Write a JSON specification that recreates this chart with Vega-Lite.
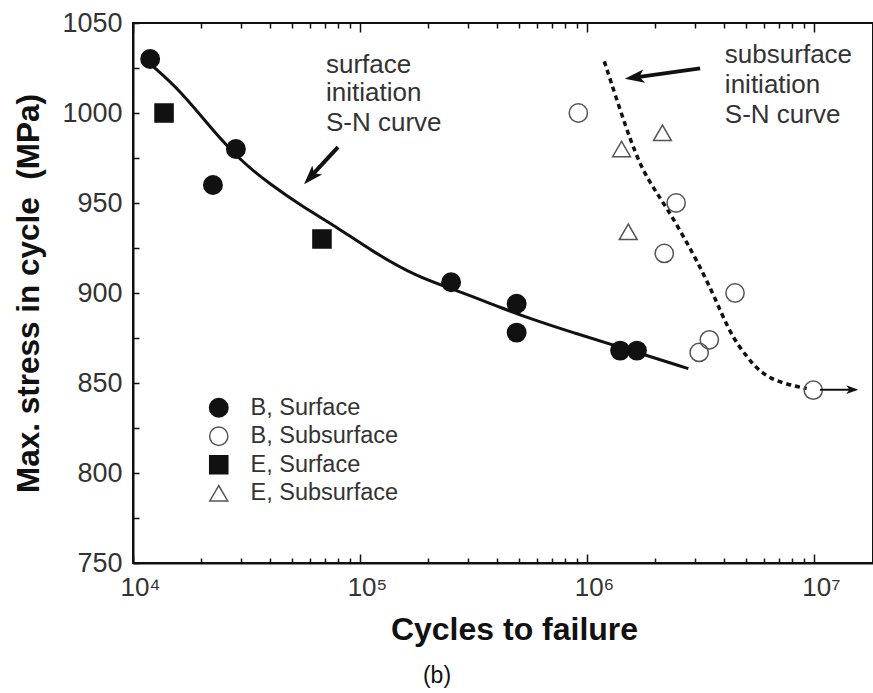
{
  "$schema": "https://vega.github.io/schema/vega-lite/v6.json",
  "width": 740,
  "height": 540,
  "autosize": "none",
  "padding": {"left": 133, "top": 23, "right": 0, "bottom": 130},
  "background": "white",
  "title": {"text": "(b)", "orient": "bottom", "anchor": "middle", "dx": -66, "offset": 20, "font": "Liberation Sans", "fontSize": 23, "fontWeight": "normal", "color": "#111"},
  "config": {
    "view": {"stroke": "#111", "strokeWidth": 2},
    "axis": {"labelFont": "Liberation Sans", "titleFont": "Liberation Sans", "domainColor": "#111", "domainWidth": 2, "tickColor": "#111", "tickWidth": 1.5, "grid": false, "labelColor": "#333", "titleColor": "#111"},
    "legend": {"padding": 0, "labelFont": "Liberation Sans", "labelFontSize": 23.5, "labelColor": "#333", "symbolStrokeWidth": 1.5, "labelOffset": 20, "rowPadding": 3.5}
  },
  "resolve": {"axis": {"x": "independent", "y": "independent"}},
  "layer": [
    {
      "data": {"values": [
        {"x": 12090, "y": 1026.5}, {"x": 16106, "y": 1012.6}, {"x": 21840, "y": 992.2}, {"x": 29610, "y": 973.7},
        {"x": 40140, "y": 960.4}, {"x": 56090, "y": 947.8}, {"x": 78940, "y": 936.7}, {"x": 110700, "y": 923.9},
        {"x": 177800, "y": 908.9}, {"x": 266700, "y": 901.5}, {"x": 427900, "y": 891.3}, {"x": 561000, "y": 885.8},
        {"x": 885300, "y": 877.6}, {"x": 1398000, "y": 870.0}, {"x": 2795000, "y": 858.0}
      ]},
      "mark": {"type": "line", "color": "#111", "strokeWidth": 3, "interpolate": "basis"},
      "encoding": {
        "x": {"field": "x", "type": "quantitative", "scale": {"type": "log", "domain": [10000, 18200000], "nice": false},
          "axis": {"orient": "bottom", "values": [10000, 100000, 1000000, 10000000], "tickSize": -9, "labelPadding": 20, "labelFontSize": 26, "labelFlush": false, "labelOffset": 7,
            "labelExpr": "datum.value == 10000 ? '10⁴' : datum.value == 100000 ? '10⁵' : datum.value == 1000000 ? '10⁶' : '10⁷'",
            "title": "Cycles to failure", "titleFontSize": 32, "titleFontWeight": "bold", "titlePadding": 14, "titleX": 381}},
        "y": {"field": "y", "type": "quantitative", "scale": {"domain": [750, 1050], "nice": false, "zero": false},
          "axis": {"orient": "left", "values": [750, 775, 800, 825, 850, 875, 900, 925, 950, 975, 1000, 1025, 1050], "tickSize": -6, "labelPadding": 17, "labelFontSize": 27,
            "labelExpr": "datum.value % 50 == 0 ? datum.value : ''",
            "title": "Max. stress in cycle\u00a0\u00a0(MPa)", "titleFontSize": 31.5, "titleFontWeight": "bold", "titlePadding": 16}}
      }
    },
    {
      "data": {"values": [
        {"x": 1192000, "y": 1028.7}, {"x": 1496000, "y": 990.4}, {"x": 1770000, "y": 966.3}, {"x": 2244000, "y": 947.8},
        {"x": 2940000, "y": 921.9}, {"x": 3601000, "y": 899.7}, {"x": 4266000, "y": 877.4}, {"x": 5052000, "y": 864.4},
        {"x": 5978000, "y": 854.3}, {"x": 7324000, "y": 849.7}, {"x": 9287000, "y": 846.9}
      ]},
      "mark": {"type": "line", "color": "#111", "strokeWidth": 3.5, "strokeDash": [5, 4], "interpolate": "basis"},
      "encoding": {
        "x": {"field": "x", "type": "quantitative",
          "axis": {"orient": "bottom", "values": [20000, 30000, 40000, 50000, 60000, 70000, 80000, 90000, 200000, 300000, 400000, 500000, 600000, 700000, 800000, 900000, 2000000, 3000000, 4000000, 5000000, 6000000, 7000000, 8000000, 9000000], "tickSize": -5, "labels": false, "domain": false, "title": null}},
        "y": {"field": "y", "type": "quantitative", "axis": null}
      }
    },
    {
      "data": {"values": [
        {"series": "B, Surface", "x": 11900, "y": 1030}, {"series": "B, Surface", "x": 22500, "y": 960},
        {"series": "B, Surface", "x": 28400, "y": 980}, {"series": "B, Surface", "x": 252000, "y": 906},
        {"series": "B, Surface", "x": 490000, "y": 894}, {"series": "B, Surface", "x": 490000, "y": 878},
        {"series": "B, Surface", "x": 1400000, "y": 868}, {"series": "B, Surface", "x": 1660000, "y": 868},
        {"series": "B, Subsurface", "x": 916000, "y": 1000}, {"series": "B, Subsurface", "x": 2470000, "y": 950},
        {"series": "B, Subsurface", "x": 2190000, "y": 922}, {"series": "B, Subsurface", "x": 4490000, "y": 900},
        {"series": "B, Subsurface", "x": 3120000, "y": 867}, {"series": "B, Subsurface", "x": 3460000, "y": 874},
        {"series": "B, Subsurface", "x": 9930000, "y": 846},
        {"series": "E, Surface", "x": 13700, "y": 1000}, {"series": "E, Surface", "x": 68000, "y": 930},
        {"series": "E, Subsurface", "x": 2150000, "y": 989}, {"series": "E, Subsurface", "x": 1420000, "y": 980},
        {"series": "E, Subsurface", "x": 1520000, "y": 934}
      ]},
      "mark": {"type": "point", "strokeWidth": 1.5, "opacity": 1},
      "encoding": {
        "x": {"field": "x", "type": "quantitative",
          "axis": {"orient": "top", "values": [10000, 100000, 1000000, 10000000], "tickSize": -9, "labels": false, "domain": false, "title": null}},
        "y": {"field": "y", "type": "quantitative", "axis": null},
        "shape": {"field": "series", "type": "nominal", "scale": {"domain": ["B, Surface", "B, Subsurface", "E, Surface", "E, Subsurface"], "range": ["circle", "circle", "square", "triangle-up"]},
          "legend": {"title": null, "orient": "none", "legendX": 74, "legendY": 373}},
        "fill": {"field": "series", "type": "nominal", "scale": {"domain": ["B, Surface", "B, Subsurface", "E, Surface", "E, Subsurface"], "range": ["#111", "transparent", "#111", "transparent"]},
          "legend": {"title": null, "orient": "none", "legendX": 74, "legendY": 373}},
        "stroke": {"field": "series", "type": "nominal", "scale": {"domain": ["B, Surface", "B, Subsurface", "E, Surface", "E, Subsurface"], "range": ["#111", "#555", "#111", "#555"]},
          "legend": {"title": null, "orient": "none", "legendX": 74, "legendY": 373}},
        "size": {"field": "series", "type": "nominal", "scale": {"domain": ["B, Surface", "B, Subsurface", "E, Surface", "E, Subsurface"], "range": [340, 320, 330, 300]},
          "legend": {"title": null, "orient": "none", "legendX": 74, "legendY": 373}}
      }
    },
    {
      "data": {"values": [
        {"arrow": "surface", "x": 80000, "y": 981}, {"arrow": "surface", "x": 59500, "y": 963.5},
        {"arrow": "subsurface", "x": 3150000, "y": 1024.8}, {"arrow": "subsurface", "x": 1640000, "y": 1019.8}
      ]},
      "mark": {"type": "line", "color": "#111", "strokeWidth": 4},
      "encoding": {
        "x": {"field": "x", "type": "quantitative",
          "axis": {"orient": "top", "values": [20000, 30000, 40000, 50000, 60000, 70000, 80000, 90000, 200000, 300000, 400000, 500000, 600000, 700000, 800000, 900000, 2000000, 3000000, 4000000, 5000000, 6000000, 7000000, 8000000, 9000000], "tickSize": -5, "labels": false, "domain": false, "title": null}},
        "y": {"field": "y", "type": "quantitative", "axis": null},
        "detail": {"field": "arrow"}
      }
    },
    {
      "data": {"values": [{"x": 10620000, "y": 846.3}, {"x": 15200000, "y": 846.3}]},
      "mark": {"type": "line", "color": "#111", "strokeWidth": 2},
      "encoding": {
        "x": {"field": "x", "type": "quantitative", "axis": null},
        "y": {"field": "y", "type": "quantitative", "axis": null}
      }
    },
    {
      "data": {"values": [{"x": 60830, "y": 964.6}]},
      "mark": {"type": "point", "shape": "M0,-1L0.65,0.9L0,0.45L-0.65,0.9Z", "filled": true, "color": "#111", "opacity": 1, "size": 420, "angle": 222.5},
      "encoding": {
        "x": {"field": "x", "type": "quantitative", "axis": null},
        "y": {"field": "y", "type": "quantitative", "axis": null}
      }
    },
    {
      "data": {"values": [{"x": 1627000, "y": 1019.8}]},
      "mark": {"type": "point", "shape": "M0,-1L0.65,0.9L0,0.45L-0.65,0.9Z", "filled": true, "color": "#111", "opacity": 1, "size": 420, "angle": 262},
      "encoding": {
        "x": {"field": "x", "type": "quantitative", "axis": null},
        "y": {"field": "y", "type": "quantitative", "axis": null}
      }
    },
    {
      "data": {"values": [{"x": 14700000, "y": 846.3}]},
      "mark": {"type": "point", "shape": "M0,-1L0.7,0.9L0,0.4L-0.7,0.9Z", "filled": true, "color": "#111", "opacity": 1, "size": 160, "angle": 90},
      "encoding": {
        "x": {"field": "x", "type": "quantitative", "axis": null},
        "y": {"field": "y", "type": "quantitative", "axis": null}
      }
    },
    {
      "data": {"values": [
        {"label": "surface", "x": 70800, "y": 1026.5}, {"label": "initiation", "x": 70800, "y": 1011}, {"label": "S-N curve", "x": 70800, "y": 994.3},
        {"label": "subsurface", "x": 4050000, "y": 1032.1}, {"label": "initiation", "x": 4050000, "y": 1015.4}, {"label": "S-N curve", "x": 4050000, "y": 998.7}
      ]},
      "mark": {"type": "text", "align": "left", "baseline": "middle", "font": "Liberation Sans", "fontSize": 26, "color": "#333"},
      "encoding": {
        "x": {"field": "x", "type": "quantitative", "axis": null},
        "y": {"field": "y", "type": "quantitative", "axis": null},
        "text": {"field": "label"}
      }
    }
  ]
}
